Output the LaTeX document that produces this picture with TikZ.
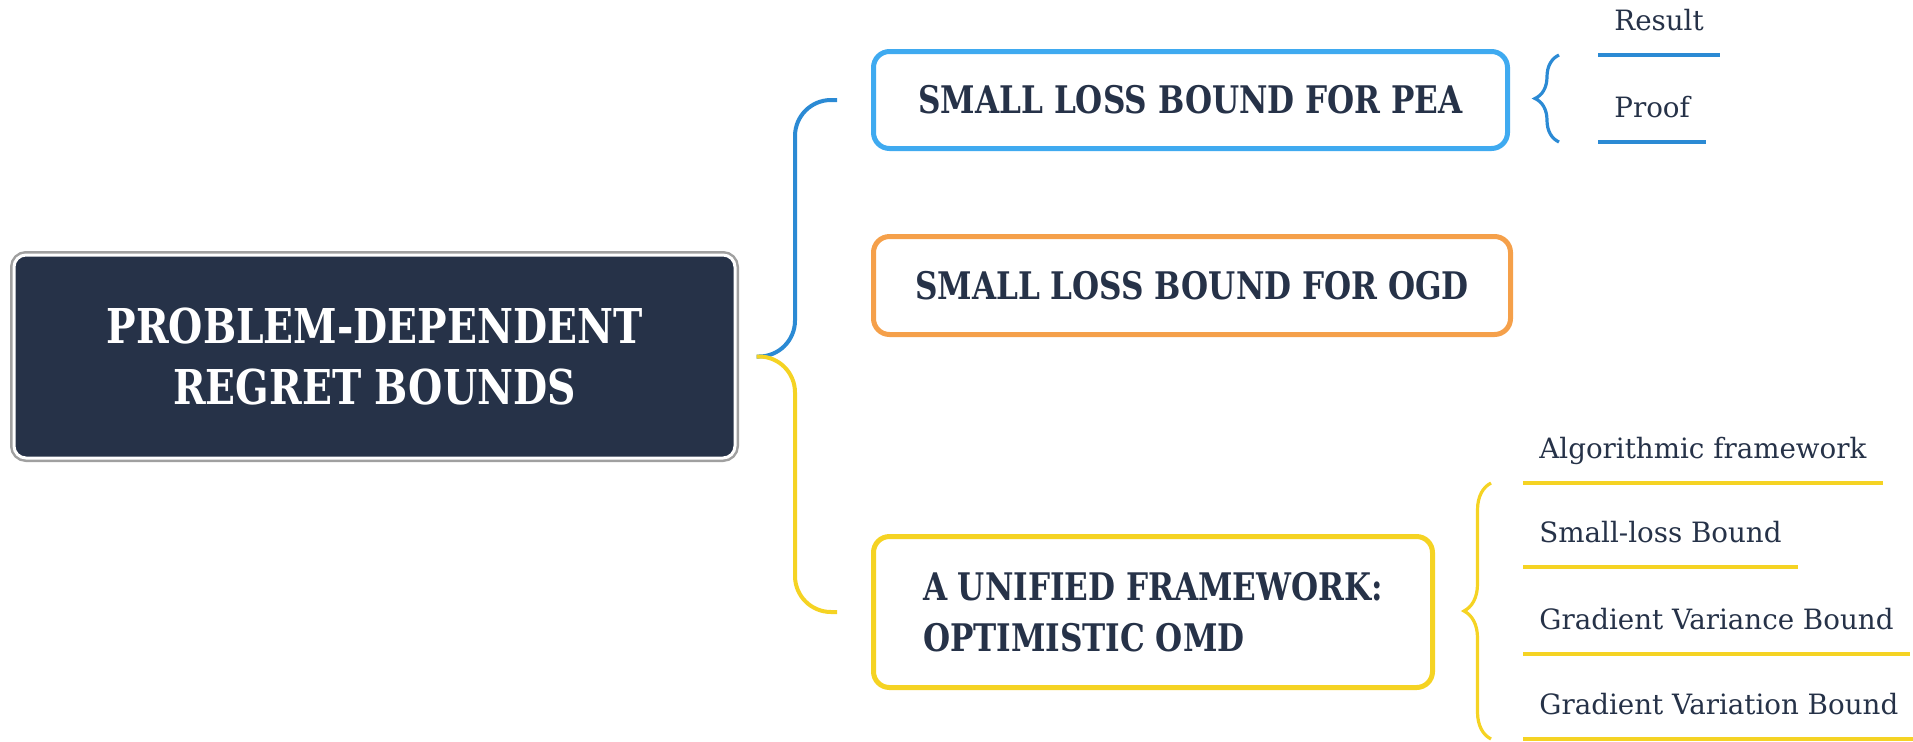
\documentclass[tikz,border=0pt]{standalone}
\usepackage{fontspec}
\setmainfont{DejaVu Serif Condensed}
\newfontfamily\headfont{DejaVu Serif Condensed}[FakeStretch=0.91]
\newfontfamily\leaffont{DejaVu Serif Condensed}[FakeStretch=1.1]
\usepackage{tikz}
\usetikzlibrary{calc,arrows.meta,decorations.pathreplacing}
\definecolor{navy}{HTML}{263248}
\definecolor{rootgray}{HTML}{A0A0A0}
\definecolor{peablue}{HTML}{3FAAF0}
\definecolor{lineblue}{HTML}{2B8AD4}
\definecolor{ogdorange}{HTML}{F5A04A}
\definecolor{omdyellow}{HTML}{F5D323}

\begin{document}
\begin{tikzpicture}[x=0.5pt,y=-0.5pt,every node/.style={text=navy},
	topic/.style={draw,rounded corners=8pt,line width=2.5pt,minimum height=48.5pt,align=left,font=\headfont\bfseries\fontsize{19}{25.5}\selectfont},
	leaf/.style={anchor=south west,inner xsep=8pt,inner ysep=9pt,text height=10pt,text depth=3pt,font=\leaffont\fontsize{14}{17}\selectfont},
	link/.style={line width=2pt,rounded corners=18pt},
	brc/.style={line width=1.6pt,decorate}]
	\useasboundingbox (0,0) rectangle (1913,741);
	% root
	\node[fill=navy,draw=white,line width=1.5pt,rounded corners=6pt,text=white,align=center,
		minimum width=360.5pt,minimum height=101.5pt,font=\headfont\bfseries\fontsize{24}{30.5}\selectfont,
		preaction={draw=rootgray,line width=4pt}] (root) at (374.5,356.5) {PROBLEM-DEPENDENT\\REGRET BOUNDS};
	% topics
	\node[topic,draw=peablue,minimum width=317pt] (pea) at (1190.5,100) {SMALL LOSS BOUND FOR PEA};
	\node[topic,draw=ogdorange,minimum width=318.5pt,minimum height=49pt] (ogd) at (1192,285.5) {SMALL LOSS BOUND FOR OGD};
	\node[topic,draw=omdyellow,minimum width=279.5pt,minimum height=75.5pt] (omd) at (1153,612) {A UNIFIED FRAMEWORK:\\OPTIMISTIC OMD};
	% links
	\coordinate (hub) at ($(root.east)+(20,0)$);
	\coordinate (peaend) at ($(pea.west)+(-34,0)$);
	\coordinate (omdend) at ($(omd.west)+(-34,0)$);
	\draw[link,lineblue] (hub) -| ($(peaend)+(-42,0)$) -- (peaend);
	\draw[link,omdyellow] (hub) -| ($(omdend)+(-42,0)$) -- (omdend);
	% leaves of pea
	\node[leaf] (result) at (1598,55) {Result};
	\node[leaf] (proof) at (1598,142) {Proof};
	\foreach \n in {result,proof}
		\draw[lineblue,line width=2pt] (\n.south west) -- (\n.south east);
	\draw[brc,lineblue,decoration={brace,amplitude=12pt}] ($(proof.south west)+(-39,0)$) -- ($(result.south west)+(-39,0)$);
	% leaves of omd
	\node[leaf] (algo) at (1523,483) {Algorithmic framework};
	\node[leaf] (small) at (1523,567) {Small-loss Bound};
	\node[leaf] (variance) at (1523,654) {Gradient Variance Bound};
	\node[leaf] (variation) at (1523,739) {Gradient Variation Bound};
	\foreach \n in {algo,small,variance,variation}
		\draw[omdyellow,line width=2pt] (\n.south west) -- (\n.south east);
	\draw[brc,omdyellow,decoration={brace,amplitude=13.5pt}] ($(variation.south west)+(-32,0)$) -- ($(algo.south west)+(-32,0)$);
\end{tikzpicture}
\end{document}
